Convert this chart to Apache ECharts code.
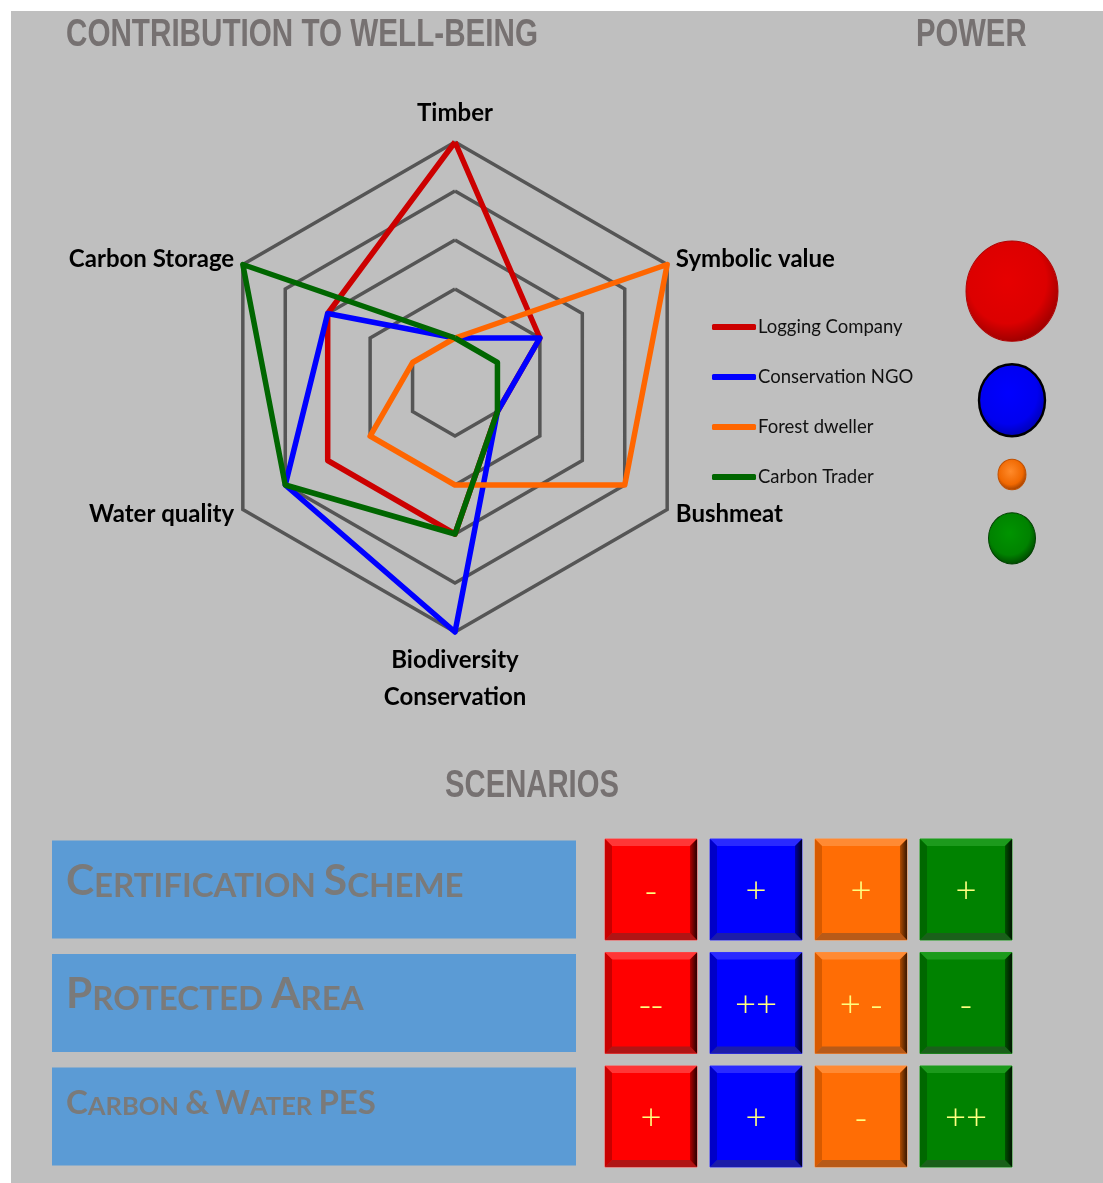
<!DOCTYPE html>
<html><head><meta charset="utf-8">
<script src="https://cdn.jsdelivr.net/npm/echarts@6/dist/echarts.min.js"></script>
<style>html,body{margin:0;padding:0;background:#fff}#c{width:1103px;height:1183px}</style>
</head><body><div id="c"></div>
<script>
// ---------- data ----------
const indicators = ['Timber', 'Carbon Storage', 'Water quality', 'Biodiversity\nConservation', 'Bushmeat', 'Symbolic value'];
const actors = ['Logging Company', 'Conservation NGO', 'Forest dweller', 'Carbon Trader'];
const actorColors = ['#cc0000', '#0000ff', '#ff6600', '#006600'];
// well-being contribution (0-5), in indicator order
const loggingCompany = [5, 3, 3, 3, 1, 2];
const conservationNGO = [1, 3, 4, 5, 1, 2];
const forestDweller = [1, 1, 2, 2, 4, 5];
const carbonTrader = [1, 5, 4, 3, 1, 1];
// power (bubble diameter)
const power = [92, 66, 28, 47];
// scenarios
const scenarios = ['Certification Scheme', 'Protected Area', 'Carbon & Water PES'];
const certificationScheme = ['-', '+', '+', '+'];
const protectedArea = ['--', '++', '+ -', '-'];
const carbonWaterPES = ['+', '+', '-', '++'];

// ---------- build ----------
const radarValues = [loggingCompany, conservationNGO, forestDweller, carbonTrader];
const scenarioRows = [certificationScheme, protectedArea, carbonWaterPES];
const tileData = [], tileText = [];
scenarioRows.forEach((row, r) => row.forEach((s, c) => { tileData.push([c, r]); tileText.push(s); }));

const tileColors = [
  {main: '#ff0000', top: '#ff3636', left: '#c80000', bottom: '#b01515', r1: '#b00000', r2: '#2a0000', edge: '#ff5050'},
  {main: '#0000ff', top: '#2a2aff', left: '#0000c8', bottom: '#1c1ca8', r1: '#0000a0', r2: '#000022', edge: '#3a3aff'},
  {main: '#ff6d05', top: '#ff8a33', left: '#d85a00', bottom: '#b85a18', r1: '#b04c00', r2: '#3a1800', edge: '#ff9040'},
  {main: '#008200', top: '#1c9a1c', left: '#006800', bottom: '#1a601a', r1: '#005000', r2: '#001400', edge: '#20a020'}
];
const bubbleColors = [
  ['#e60000', '#dc0000', '#a00000', '#b00000', 1],
  ['#0000ff', '#0000f0', '#0000b0', '#000000', 2.5],
  ['#ff8a2a', '#f06800', '#a04000', '#c05000', 1],
  ['#009400', '#008200', '#004a00', '#004000', 1]
];

// bubble stacking (vertical), derived from power sizes
const aspect = 1.09, bubbleGap = 23;
const bubbleH = power.map(p => p * aspect);
const bubbleY = [];
let acc = 0;
bubbleH.forEach((h, i) => { bubbleY.push(acc + h / 2); acc += h + (i < bubbleH.length - 1 ? bubbleGap : 0); });
const bubbleTotal = acc;

function smallCaps(v, idx) {
  const sfx = idx === 2 ? '3' : '';
  return v.split(' ').map(w => {
    if (w === w.toUpperCase()) return '{B' + sfx + '|' + w + '}';
    return '{B' + sfx + '|' + w[0].toUpperCase() + '}{s' + sfx + '|' + w.slice(1).toUpperCase() + '}';
  }).join('{s' + sfx + '| }');
}

function renderTile(params, api) {
  const c = api.value(0), r = api.value(1);
  const pt = api.coord([c, r]);
  const band = api.size([1, 1]);
  const w = band[0] * 0.876, h = band[1] * 0.89;
  const x0 = pt[0] - w / 2, y0 = pt[1] - h / 2;
  const b = 7;
  const col = tileColors[c];
  return {
    type: 'group', children: [
      {type: 'rect', shape: {x: x0, y: y0, width: w, height: h}, style: {fill: col.main, stroke: col.edge, lineWidth: 1}},
      {type: 'polygon', shape: {points: [[x0, y0], [x0 + w, y0], [x0 + w - b, y0 + b], [x0 + b, y0 + b]]}, style: {fill: col.top}},
      {type: 'polygon', shape: {points: [[x0, y0], [x0 + b, y0 + b], [x0 + b, y0 + h - b], [x0, y0 + h]]}, style: {fill: col.left}},
      {type: 'polygon', shape: {points: [[x0, y0 + h], [x0 + b, y0 + h - b], [x0 + w - b, y0 + h - b], [x0 + w, y0 + h]]}, style: {fill: col.bottom}},
      {type: 'polygon', shape: {points: [[x0 + w, y0], [x0 + w, y0 + h], [x0 + w - b, y0 + h - b], [x0 + w - b, y0 + b]]},
        style: {fill: new echarts.graphic.LinearGradient(0, 0, 1, 0, [{offset: 0, color: col.r1}, {offset: 1, color: col.r2}])}},
      {type: 'text', x: pt[0], y: pt[1] + 3, style: {text: tileText[params.dataIndex], fill: '#ffff80', fontSize: 37,
        fontFamily: 'Open Sans', fontWeight: 300, align: 'center', verticalAlign: 'middle'}}
    ]
  };
}

const titleStyle = {fontSize: 39, fontWeight: 'bold', fontFamily: '"Liberation Sans", Arial, sans-serif', fill: '#767171', verticalAlign: 'middle'};
const capB = {fontFamily: 'Lato', fontWeight: 'bold', color: '#7a7a7a', align: 'left', verticalAlign: 'bottom'};

const chart = echarts.init(document.getElementById('c'));
chart.setOption({
  backgroundColor: '#ffffff',
  animation: false,
  graphic: [
    {type: 'rect', z: -10, shape: {x: 11, y: 11, width: 1092, height: 1172}, style: {fill: '#bfbfbf'}},
    {type: 'text', x: 66, y: 35, scaleX: 0.76, style: Object.assign({text: 'CONTRIBUTION TO WELL-BEING', align: 'left'}, titleStyle)},
    {type: 'text', x: 916, y: 35, scaleX: 0.75, style: Object.assign({text: 'POWER', align: 'left'}, titleStyle)},
    {type: 'text', x: 532, y: 786, scaleX: 0.75, style: Object.assign({text: 'SCENARIOS', align: 'center'}, titleStyle)}
  ],
  legend: {
    data: actors, orient: 'vertical', left: 707, top: 311, itemWidth: 44, itemHeight: 6, itemGap: 28,
    icon: 'roundRect', selectedMode: false,
    textStyle: {fontFamily: 'Lato', fontSize: 18.5, color: '#111', lineHeight: 22, padding: [0, 0, 0, -3]}
  },
  radar: {
    center: [455, 387], radius: 245, startAngle: 90, shape: 'polygon', splitNumber: 5, axisNameGap: 10,
    indicator: indicators.map(n => ({name: n, max: 5, min: 0})),
    axisName: {color: '#000', fontFamily: 'Lato', fontWeight: 'bold', fontSize: 24, lineHeight: 37},
    splitLine: {lineStyle: {color: '#555555', width: 3.5}},
    splitArea: {show: false},
    axisLine: {show: false},
    axisTick: {show: false},
    axisLabel: {show: false}
  },
  grid: [
    {left: 598.5, top: 832.75, width: 420, height: 340.5},
    {left: 962, top: 241, width: 100, height: bubbleTotal}
  ],
  xAxis: [
    {gridIndex: 0, type: 'category', data: actors, show: false},
    {gridIndex: 1, type: 'category', data: ['power'], show: false}
  ],
  yAxis: [
    {gridIndex: 0, type: 'category', data: scenarios, inverse: true,
      axisLine: {show: false}, axisTick: {show: false}, splitLine: {show: false},
      axisLabel: {
        interval: 0, margin: 22.5, align: 'right', verticalAlign: 'middle',
        backgroundColor: '#5b9bd5', width: 510, height: 79, padding: [19, 0, 0, 14],
        formatter: smallCaps,
        rich: {
          B: Object.assign({fontSize: 42.5}, capB),
          s: Object.assign({fontSize: 33}, capB),
          B3: Object.assign({fontSize: 33}, capB),
          s3: Object.assign({fontSize: 25.5}, capB)
        }
      }},
    {gridIndex: 1, type: 'value', min: 0, max: bubbleTotal, inverse: true, show: false}
  ],
  series: [
    {
      type: 'radar', symbol: 'none',
      data: radarValues.map((v, i) => ({
        name: actors[i], value: v,
        lineStyle: {color: actorColors[i], width: 5.5},
        itemStyle: {color: actorColors[i]}
      }))
    },
    {
      type: 'custom', xAxisIndex: 0, yAxisIndex: 0, renderItem: renderTile, data: tileData, silent: true
    },
    {
      type: 'scatter', xAxisIndex: 1, yAxisIndex: 1, silent: true,
      data: power.map((p, i) => ({
        value: [0, bubbleY[i]],
        symbolSize: [p, p * aspect],
        itemStyle: {
          color: {type: 'radial', x: 0.45, y: 0.4, r: 0.6, colorStops: [
            {offset: 0, color: bubbleColors[i][0]}, {offset: 0.7, color: bubbleColors[i][1]}, {offset: 1, color: bubbleColors[i][2]}]},
          borderColor: bubbleColors[i][3], borderWidth: bubbleColors[i][4], opacity: 1
        }
      }))
    }
  ]
});
</script></body></html>
